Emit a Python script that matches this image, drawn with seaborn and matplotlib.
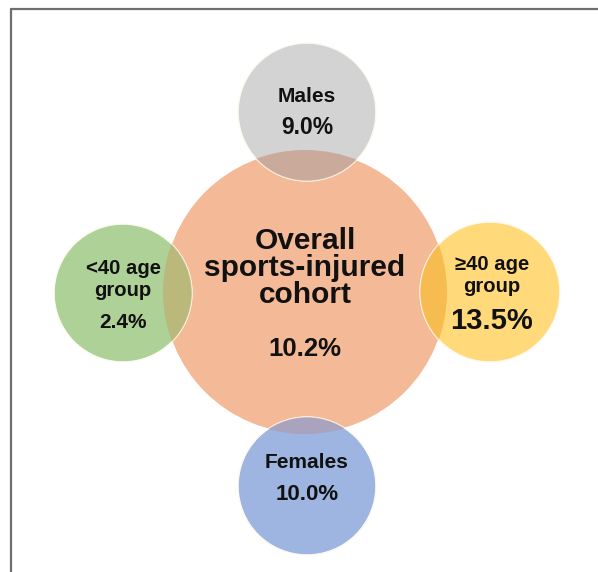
import matplotlib
matplotlib.use("Agg")
import matplotlib.pyplot as plt
from matplotlib.patches import Circle
from matplotlib.lines import Line2D
import seaborn as sns

# Groups and their injury rates
groups = ["Overall\nsports-injured\ncohort", "Males", "Females", "<40 age\ngroup", "≥40 age\ngroup"]
rates = [10.2, 9.0, 10.0, 2.4, 13.5]
fill_colors = ["#F4B996", "#D3D3D3", "#9DB5E0", "#ADD196", "#FFD97A"]
overlap_colors = [None, "#C9AA9B", "#A9A3BE", "#BAB87A", "#F7BC50"]

# Layout in pixel units (y grows downwards)
centers = [(305, 292), (307, 112), (307, 486), (123, 293), (490, 292)]
radii = [142, 69, 69, 69, 70]
name_size = [21.5, 15, 15, 14.6, 14.6]
rate_size = [18.5, 16.5, 16, 15, 21]
name_dy = [-24, -16, -23, -13, -17]
rate_dy = [57, 16, 8, 30, 29]
name_dx = [0, 0, 0, 0, 2]
line_gap = [0.95, 1.0, 1.0, 1.2, 1.2]

sns.set_theme(style="white")
plt.rcParams["font.family"] = ["Liberation Sans", "DejaVu Sans"]

fig = plt.figure(figsize=(5.98, 5.72), dpi=100)
ax = fig.add_axes([0, 0, 1, 1])
ax.set_xlim(0, 598)
ax.set_ylim(572, 0)
ax.set_aspect("equal")
ax.axis("off")

# Large central circle
big = Circle(centers[0], radii[0], facecolor=fill_colors[0],
             edgecolor="white", linewidth=1.0, zorder=1)
ax.add_patch(big)

# Satellite circles, with the overlapping lens tinted separately
for i in range(1, len(groups)):
    c = Circle(centers[i], radii[i], facecolor=fill_colors[i],
               edgecolor="white", linewidth=1.0, zorder=2)
    ax.add_patch(c)
    lens = Circle(centers[i], radii[i], facecolor=overlap_colors[i],
                  edgecolor="none", zorder=3)
    ax.add_patch(lens)
    clip = Circle(centers[0], radii[0], transform=ax.transData)
    lens.set_clip_path(clip)
    rim = Circle(centers[i], radii[i], facecolor="none",
                 edgecolor="#FFF3E0", linewidth=0.8, zorder=4, alpha=0.55)
    ax.add_patch(rim)

# Labels
for i, (name, rate) in enumerate(zip(groups, rates)):
    cx, cy = centers[i]
    ax.text(cx + name_dx[i], cy + name_dy[i], name, ha="center", va="center",
            fontsize=name_size[i], fontweight="bold", color="#111111",
            linespacing=line_gap[i], zorder=6)
    ax.text(cx + name_dx[i], cy + rate_dy[i], f"{rate:.1f}%", ha="center",
            va="center", fontsize=rate_size[i], fontweight="bold",
            color="#111111", zorder=6)

# Panel frame along the top and left edges
fig.add_artist(Line2D([11 / 598, 1.0], [1 - 9 / 572, 1 - 9 / 572],
                      transform=fig.transFigure, color="#6E6E6E", linewidth=1.6))
fig.add_artist(Line2D([11 / 598, 11 / 598], [0.0, 1 - 9 / 572],
                      transform=fig.transFigure, color="#6E6E6E", linewidth=1.6))

fig.savefig("out.png", dpi=100, facecolor="white")
